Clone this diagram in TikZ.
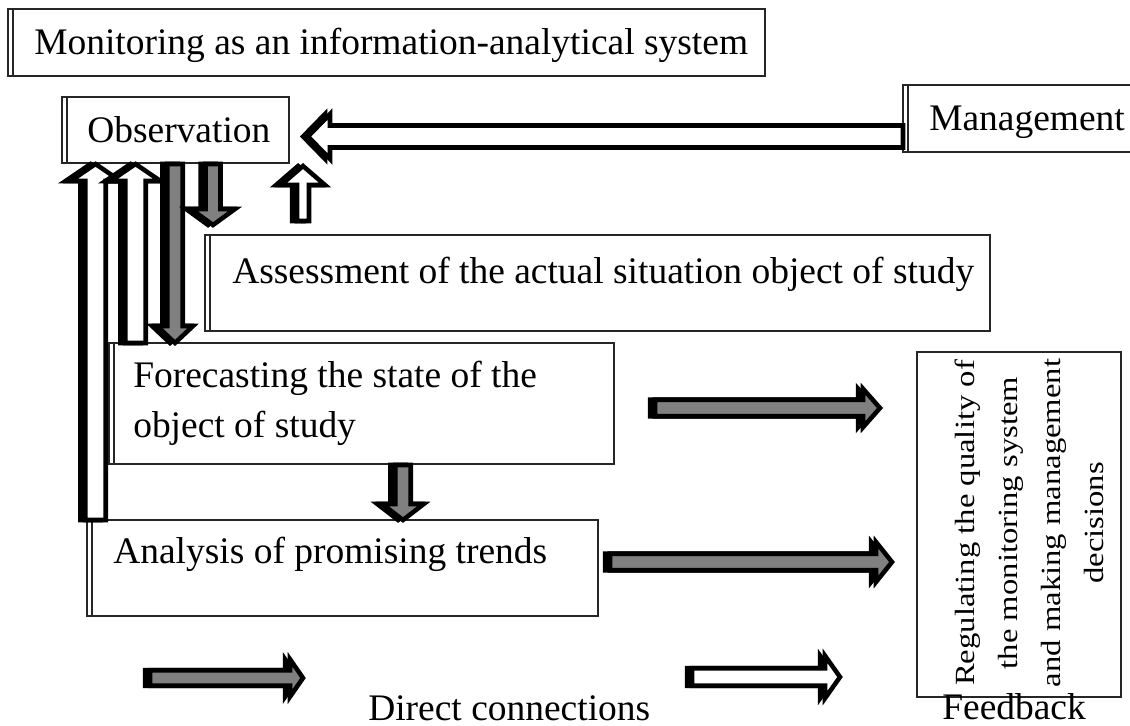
\documentclass[tikz,border=0pt]{standalone}
\usepackage{fontspec}
\setmainfont{Liberation Serif}
\usetikzlibrary{calc}

\definecolor{arrgray}{RGB}{128,128,128}
\newcommand\pxu{0.75pt}

% Block arrow between two named points:
% #1 style, #2 tail, #3 tip, #4 shaft half width, #5 head half width, #6 head length (px)
\newcommand\blockarrow[6]{%
  \foreach \sty in {arrshadow,#1}{%
    \draw[\sty] let \p1=(#2), \p2=(#3), \p3=($(\p2)!#6*\pxu!(\p1)$) in
      ($(\p1)!#4*\pxu!90:(\p2)$) -- ($(\p3)!#4*\pxu!90:(\p2)$) --
      ($(\p3)!#5*\pxu!90:(\p2)$) -- (\p2) --
      ($(\p3)!#5*\pxu!-90:(\p2)$) -- ($(\p3)!#4*\pxu!-90:(\p2)$) --
      ($(\p1)!#4*\pxu!-90:(\p2)$) -- cycle;
  }%
}

\tikzset{
  arrbase/.style={draw=black, line width=3.4pt, line join=miter, miter limit=10},
  arrshadow/.style={arrbase, fill=black, transform canvas={xshift=-3.7pt}},
  grayarr/.style={arrbase, fill=arrgray},
  whitearr/.style={arrbase, fill=white},
  box/.style={draw=black!85, line width=1.1pt, fill=white},
  dbox/.style={box, path picture={
      \draw[black!85, line width=1.1pt]
        ([xshift=3.6pt]path picture bounding box.north west) --
        ([xshift=3.6pt]path picture bounding box.south west);}},
  txt/.style={anchor=base west, inner sep=0pt, font=\fontsize{28.1}{33}\selectfont},
}

\begin{document}
\begin{tikzpicture}[x=0.75pt, y=-0.75pt]
\useasboundingbox (0,0) rectangle (1130,725);
\clip (0,0) rectangle (1130,725);

% boxes
\path[dbox] (8,9) rectangle (765,76);
\node[txt] (title) at (34,54) {Monitoring as an information-analytical system};

\path[dbox] (62,97) rectangle (289,163);
\node[txt] (obs) at (87,142) {Observation};

\path[dbox] (903,85) rectangle (1140,152);
\node[txt] (mgmt) at (929,130) {Management};

\path[dbox] (205,235) rectangle (990,331);
\node[txt] (assess) at (232,283) {Assessment of the actual situation object of study};

\path[dbox] (109,343) rectangle (614,464);
\node[txt] (fore1) at (133,387) {Forecasting the state of the};
\node[txt] (fore2) at (133,437) {object of study};

\path[dbox] (87,520) rectangle (598,616);
\node[txt] (anal) at (113,563) {Analysis of promising trends};

\path[box] (917,352) rectangle (1121,697);
\node[rotate=90, yscale=0.85, align=center, inner sep=0pt,
      font=\fontsize{24.5}{38}\selectfont] (reg) at (1029,523)
  {Regulating the quality of\\the monitoring system\\and making management\\decisions};

% arrow end points
\coordinate (aT) at (95.5,520);  \coordinate (aH) at (95.5,164);
\coordinate (bT) at (135.5,343); \coordinate (bH) at (135.5,164);
\coordinate (cT) at (175,164);   \coordinate (cH) at (175,343);
\coordinate (dT) at (213,164);   \coordinate (dH) at (213,225);
\coordinate (eT) at (303,221);   \coordinate (eH) at (303,166);
\coordinate (mT) at (903,136.5); \coordinate (mH) at (308,136.5);
\coordinate (fT) at (403,465);   \coordinate (fH) at (403,520);
\coordinate (r1T) at (655,408);  \coordinate (r1H) at (880,408);
\coordinate (r2T) at (610,562);  \coordinate (r2H) at (892,562);
\coordinate (lgT) at (150,678);  \coordinate (lgH) at (303,678);
\coordinate (lwT) at (692,677);  \coordinate (lwH) at (840,677);

% arrows
\blockarrow{whitearr}{mT}{mH}{11}{22.5}{22}
\blockarrow{whitearr}{aT}{aH}{10.25}{25}{17}
\blockarrow{whitearr}{bT}{bH}{10.25}{25}{17}
\blockarrow{grayarr}{cT}{cH}{7.75}{18}{17}
\blockarrow{grayarr}{dT}{dH}{7.5}{22}{16}
\blockarrow{whitearr}{eT}{eH}{6}{22}{19}
\blockarrow{grayarr}{fT}{fH}{7.75}{20.75}{16}
\blockarrow{grayarr}{r1T}{r1H}{8.25}{19.25}{17}
\blockarrow{grayarr}{r2T}{r2H}{8.25}{20}{16}
\blockarrow{grayarr}{lgT}{lgH}{7.75}{18.75}{13}
\blockarrow{whitearr}{lwT}{lwH}{8.75}{21.25}{15}

% legend
\node[txt] (ldirect) at (368,720) {Direct connections};
\node[txt] (lfeed) at (942,719) {Feedback};
\end{tikzpicture}
\end{document}
